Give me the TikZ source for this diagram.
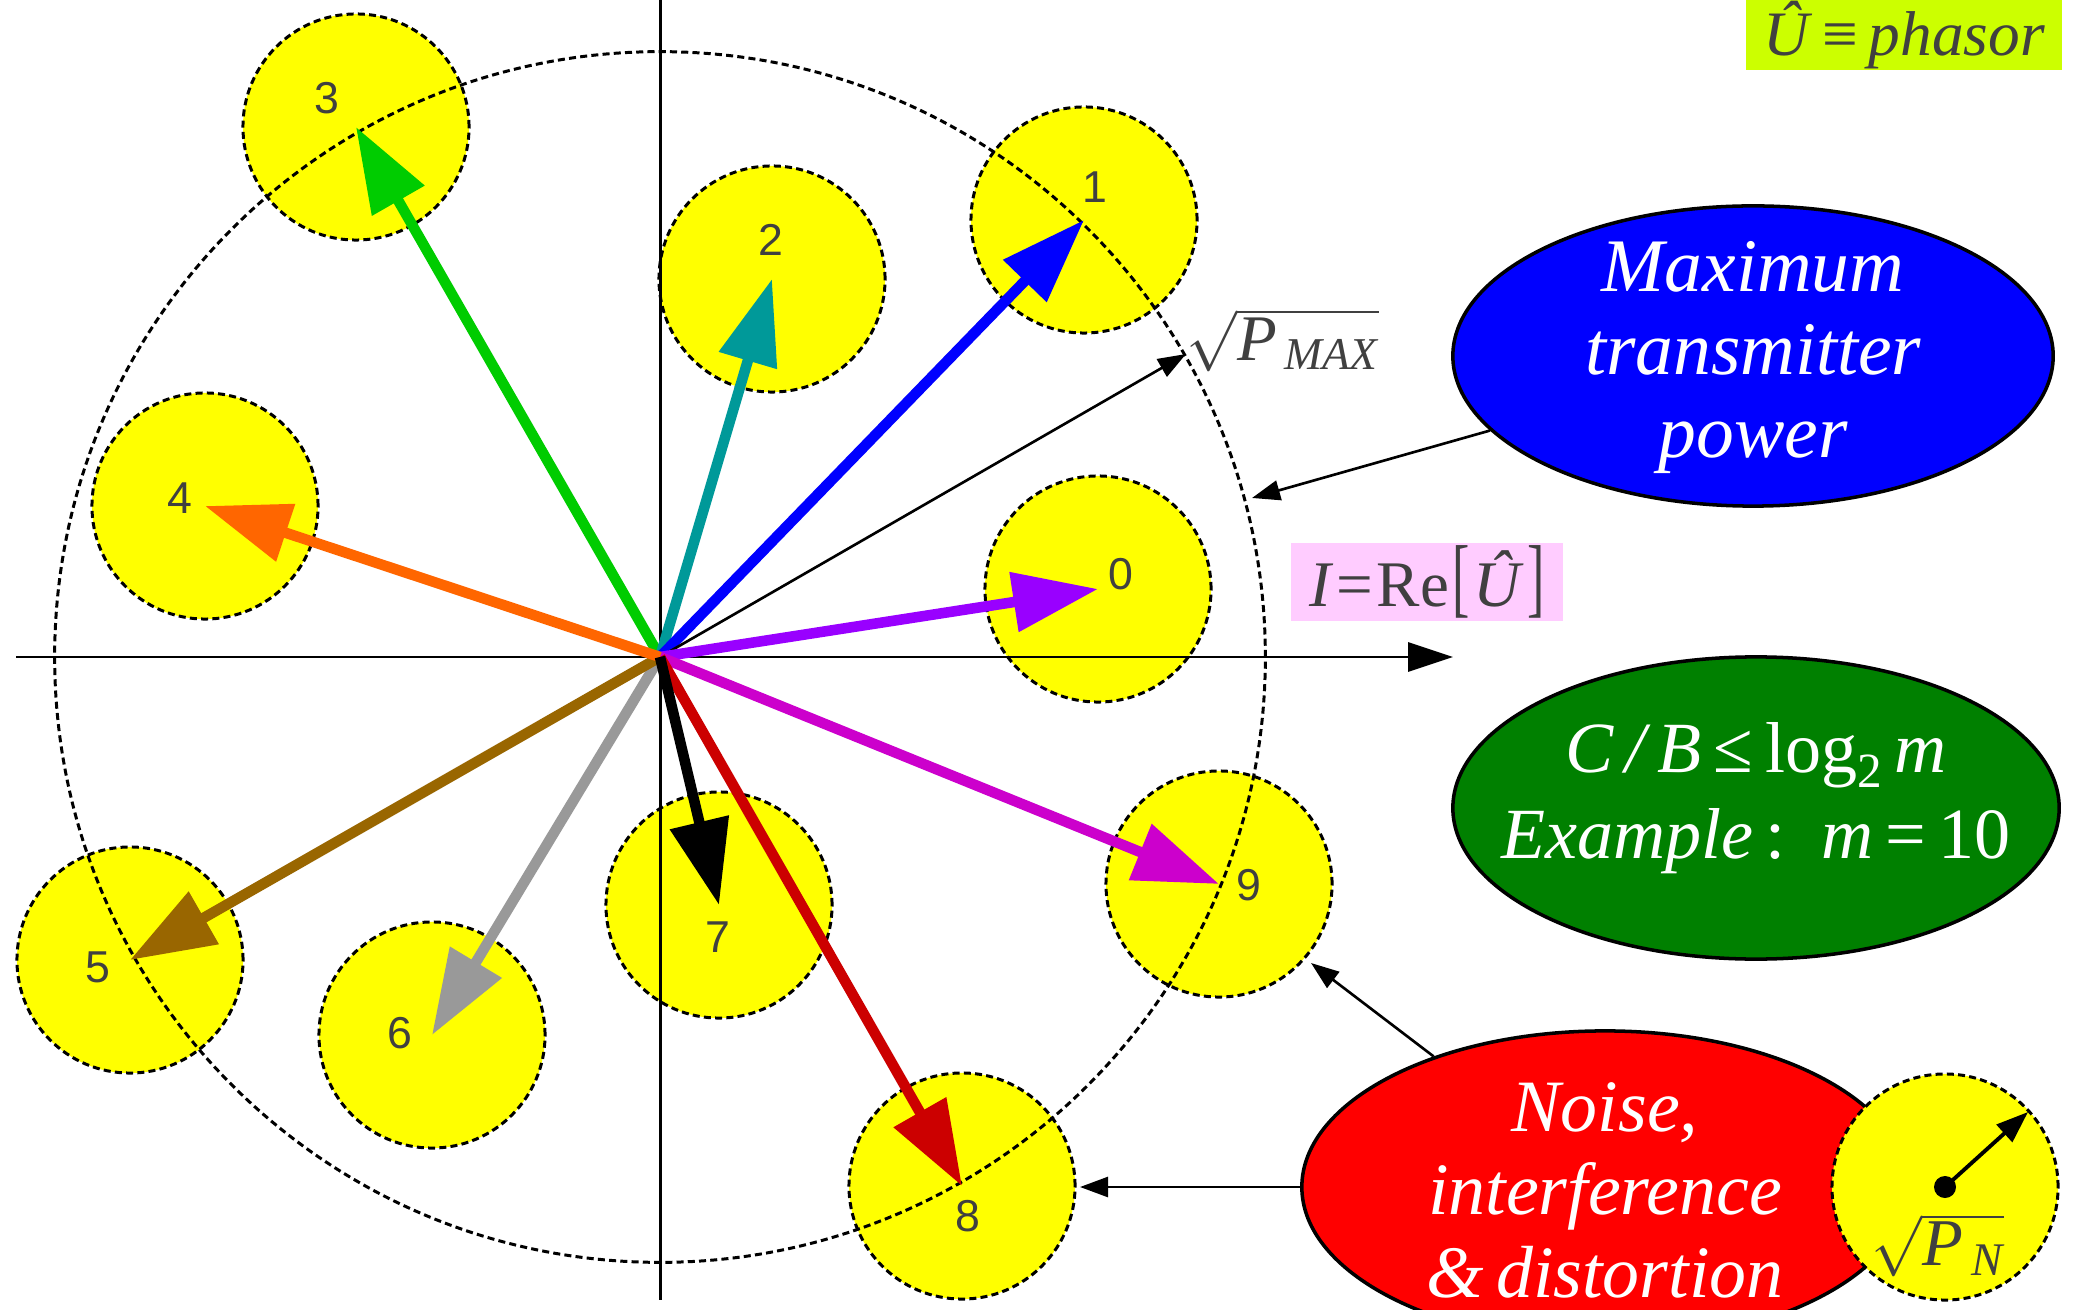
\documentclass[tikz,border=0pt]{standalone}
\usepackage{fontspec}
\usepackage{amsmath}
\usepackage{graphicx}
\setmainfont{Liberation Serif}
\newfontfamily\numfont{Liberation Sans}
\usetikzlibrary{arrows.meta,shapes.geometric}
\definecolor{myyellow}{HTML}{FFFF00}
\definecolor{vgreen}{HTML}{00CC00}
\definecolor{vteal}{HTML}{009999}
\definecolor{vblue}{HTML}{0000FF}
\definecolor{vorange}{HTML}{FF6600}
\definecolor{vpurple}{HTML}{9900FF}
\definecolor{vmagenta}{HTML}{CC00CC}
\definecolor{vbrown}{HTML}{996600}
\definecolor{vgray}{HTML}{999999}
\definecolor{vred}{HTML}{CC0000}
\definecolor{ellblue}{HTML}{0000FF}
\definecolor{ellgreen}{HTML}{008000}
\definecolor{ellred}{HTML}{FF0000}
\definecolor{pinkbg}{HTML}{FFCCFF}
\definecolor{limebg}{HTML}{CCFF00}
\definecolor{txtgray}{HTML}{404040}
\begin{document}
\begin{tikzpicture}[x=0.01cm,y=-0.01cm,
  yc/.style={circle,fill=myyellow,draw=black,line width=0.85pt,dash pattern=on 2pt off 1.2pt,minimum size=2.26cm,inner sep=0pt},
  num/.style={text=txtgray,font=\numfont\fontsize{12.7pt}{14pt}\selectfont,inner sep=0pt},
  vec/.style={line width=3pt,-{Triangle[length=0.85cm,width=0.58cm]}},
  thinarr/.style={line width=0.75pt,-{Triangle[length=0.28cm,width=0.2cm]}},
  bigell/.style={ellipse,draw=black,line width=1pt,minimum width=6cm,minimum height=3cm,inner sep=0pt},
  elltext/.style={text=white,align=center,font=\itshape\fontsize{21.5pt}{23.6pt}\selectfont,inner sep=0pt},
  mlabel/.style={text=txtgray,inner sep=0pt}
]
\useasboundingbox (0,0) rectangle (2077,1310);
\fill[white] (0,0) rectangle (2077,1310);

% origin
\coordinate (O) at (660,657);

% yellow circles
\node[yc] (c0) at (1098,589) {};
\node[yc] (c1) at (1084,220) {};
\node[yc] (c2) at (772,279) {};
\node[yc] (c3) at (356,127) {};
\node[yc] (c4) at (205,506) {};
\node[yc] (c5) at (130,960) {};
\node[yc] (c6) at (432,1035) {};
\node[yc] (c7) at (719,905) {};
\node[yc] (c8) at (962,1186) {};
\node[yc] (c9) at (1219,884) {};

% big dashed circle
\node[circle,draw=black,line width=0.85pt,dash pattern=on 2pt off 1.2pt,minimum size=12.1cm,inner sep=0pt] (big) at (O) {};

% axes
\coordinate (xl) at (16,657);
\coordinate (xr) at (1453,657);
\coordinate (yt) at (660,0);
\coordinate (yb) at (660,1300);
\draw[line width=0.85pt,-{Triangle[length=0.45cm,width=0.29cm]}] (xl) -- (xr);
\draw[line width=0.85pt] (yt) -- (yb);

% vectors
\draw[vec,vgreen] (O) -- (c3.center);
\draw[vec,vteal] (O) -- (c2.center);
\draw[vec,vblue] (O) -- (c1.center);
\coordinate (pmax) at (1186,354);
\draw[thinarr] (O) -- (pmax);
\draw[vec,vpurple] (O) -- (c0.center);
\draw[vec,vmagenta] (O) -- (c9.center);
\draw[vec,vred] (O) -- (c8.center);
\draw[vec,vgray] (O) -- (c6.center);
\draw[vec,vbrown] (O) -- (c5.center);
\draw[vec,vorange] (O) -- (c4.center);
\draw[vec,black] (O) -- (c7.center);

% number labels
\node[num] (n0) at (1121,574) {0};
\node[num] (n1) at (1095,187) {1};
\node[num] (n2) at (771,240) {2};
\node[num] (n3) at (327,98) {3};
\node[num] (n4) at (180,498) {4};
\node[num] (n5) at (98,967) {5};
\node[num] (n6) at (400,1033) {6};
\node[num] (n7) at (718,937) {7};
\node[num] (n8) at (968,1216) {8};
\node[num] (n9) at (1249,885) {9};

% sqrt P_MAX label
\node[mlabel,font=\fontsize{18.5pt}{21pt}\selectfont] (pmaxlab) at (1283,340)
  {$\sqrt{\text{\itshape P}_{\,\text{\itshape MAX}}}$};

% I = Re[U] label
\node[fill=pinkbg,text=txtgray,minimum width=2.72cm,minimum height=0.77cm,inner sep=0pt,
  font=\fontsize{18.5pt}{20pt}\selectfont] (relab) at (1427,582)
  {\textit{I}\kern1pt=\kern1pt Re\kern1pt\scalebox{0.8}[1.35]{[}\kern1pt\textit{Û}\kern1pt\scalebox{0.8}[1.35]{]}};

% phasor label
\node[fill=limebg,text=txtgray,minimum width=3.16cm,minimum height=0.7cm,inner sep=0pt,
  font=\fontsize{18pt}{20pt}\selectfont] (phlab) at (1904,35)
  {\textit{Û}\,≡\,\textit{phasor}};

% blue ellipse
\node[bigell,fill=ellblue] (blueE) at (1753,356) {};
\node[elltext] (blueT) at (1753,358) {Maximum\\transmitter\\power};
\coordinate (bt) at (1252,498);
\draw[thinarr] (blueE) -- (bt);

% green ellipse
\node[bigell,fill=ellgreen,minimum width=6.06cm,minimum height=3.02cm] (greenE) at (1756,808) {};
\node[elltext,font=\fontsize{20.5pt}{24.5pt}\selectfont] (greenT) at (1756,798)
  {\textit{C\,/\,B}\,≤\,log\raisebox{-0.45ex}{\fontsize{14pt}{14pt}\selectfont 2}\,\textit{m}\\
   \textit{Example}\,:\enspace\textit{m}\,=\,10};

% red ellipse
\node[bigell,fill=ellred,minimum width=6.06cm,minimum height=3.12cm] (redE) at (1605,1187) {};
\node[elltext,font=\itshape\fontsize{21pt}{23.6pt}\selectfont] (redT) at (1605,1190)
  {Noise,\\interference\\\&\,distortion};
\coordinate (t8) at (1080,1187);
\coordinate (t9) at (1311,963);
\draw[thinarr] (redE) -- (t8);
\draw[thinarr] (redE) -- (t9);

% legend circle
\node[yc] (leg) at (1945,1187) {};
\node[circle,fill=black,minimum size=0.22cm,inner sep=0pt] (legdot) at (leg.center) {};
\coordinate (legtip) at (2028,1112);
\draw[line width=1.1pt,-{Triangle[length=0.32cm,width=0.23cm]}] (legdot.center) -- (legtip);
\node[mlabel,font=\fontsize{19pt}{21pt}\selectfont] (pnlab) at (1938,1245)
  {$\sqrt{\text{\itshape P}_{\,\text{\itshape N}}}$};
\end{tikzpicture}
\end{document}
